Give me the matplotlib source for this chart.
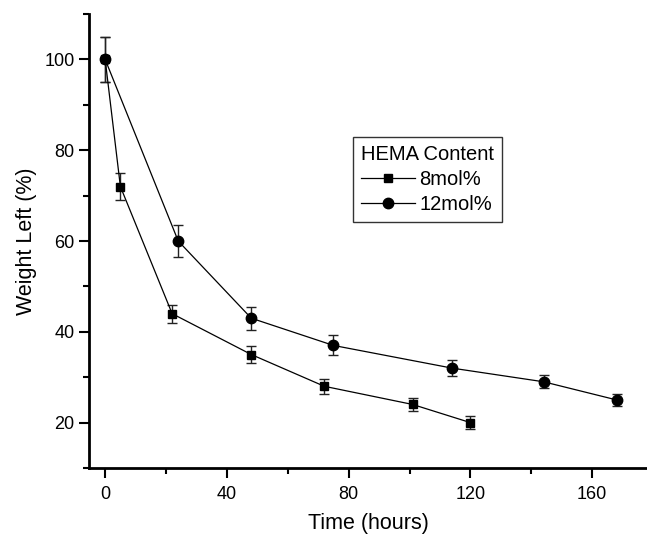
import numpy as np
import matplotlib.pyplot as plt
from matplotlib.ticker import MultipleLocator

plt.rcParams['font.family'] = ['Liberation Sans', 'DejaVu Sans']

# 8 mol% HEMA
time8 = [0, 5, 22, 48, 72, 101, 120]
weight8 = [100, 72, 44, 35, 28, 24, 20]
err8 = [5, 3, 2, 1.8, 1.6, 1.5, 1.5]

# 12 mol% HEMA
time12 = [0, 24, 48, 75, 114, 144, 168]
weight12 = [100, 60, 43, 37, 32, 29, 25]
err12 = [5, 3.5, 2.5, 2.2, 1.7, 1.4, 1.3]

fig = plt.figure(figsize=(6.47, 5.35), dpi=100)
ax = fig.add_axes([0.1376, 0.1252, 0.8624, 0.8486])

ax.errorbar(time8, weight8, yerr=err8, color='black', marker='s', markersize=6,
            linewidth=0.9, elinewidth=1.0, ecolor='#222222', capsize=3.5,
            capthick=1.0, label='8mol%')
ax.errorbar(time12, weight12, yerr=err12, color='black', marker='o', markersize=7.5,
            linewidth=0.9, elinewidth=1.0, ecolor='#222222', capsize=3.5,
            capthick=1.0, label='12mol%')

ax.set_xlim(-5.3, 178)
ax.set_ylim(10, 110)
ax.xaxis.set_major_locator(MultipleLocator(40))
ax.xaxis.set_minor_locator(MultipleLocator(20))
ax.yaxis.set_major_locator(MultipleLocator(20))
ax.yaxis.set_minor_locator(MultipleLocator(10))

for side in ['top', 'right']:
    ax.spines[side].set_visible(False)
for side in ['left', 'bottom']:
    ax.spines[side].set_linewidth(2.0)

ax.tick_params(which='major', direction='out', length=7, width=1.5, labelsize=13)
ax.tick_params(which='minor', direction='out', length=4, width=1.5)
ax.tick_params(axis='y', which='major', pad=3.5)
ax.tick_params(axis='x', which='major', pad=6)

ax.set_xlabel('Time (hours)', fontsize=15.5, labelpad=7.5)
ax.set_ylabel('Weight Left (%)', fontsize=15.5, labelpad=5)

handles, labels = ax.get_legend_handles_labels()
handles = [h[0] for h in handles]
leg = ax.legend(handles, labels, title='HEMA Content', loc='upper left',
                bbox_to_anchor=(0.473, 0.729), borderaxespad=0, fontsize=14.5,
                title_fontsize=14.5, frameon=True, fancybox=False,
                edgecolor='black', handlelength=2.7, handletextpad=0.2,
                labelspacing=0.3, borderpad=0.4)
leg.get_frame().set_linewidth(1.0)
leg._legend_box.align = 'left'

fig.savefig('out.png', dpi=100)
